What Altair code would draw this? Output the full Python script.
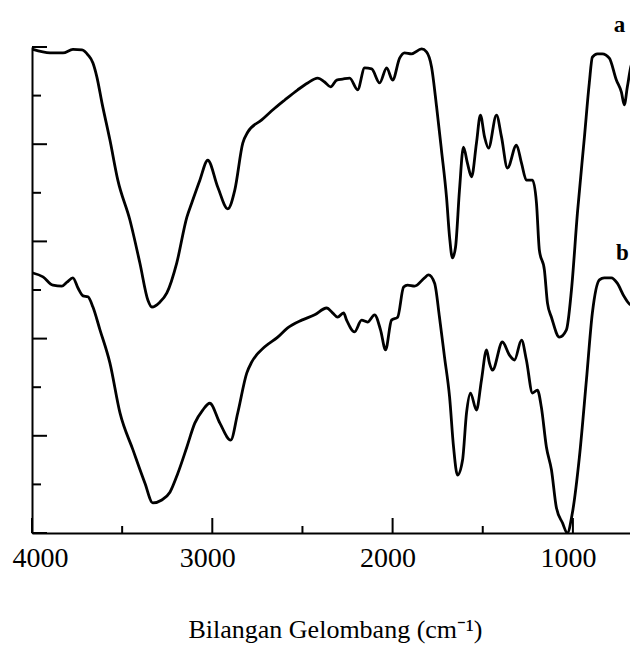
import altair as alt
import pandas as pd

# Curve a (upper spectrum): wavenumber (cm-1) and transmittance (arbitrary %)
wn_a = [3995, 3900, 3828, 3773, 3723, 3690, 3662, 3640, 3612, 3568, 3524, 3457, 3402, 3357,
        3335, 3291, 3252, 3197, 3141, 3114, 3069, 3025, 2970, 2914, 2875, 2831, 2803, 2726,
        2654, 2598, 2526, 2471, 2416, 2377, 2344, 2310, 2277, 2238, 2194, 2155, 2116, 2072,
        2033, 2000, 1961, 1934, 1895, 1839, 1812, 1784, 1756, 1729, 1701, 1684, 1668, 1651,
        1629, 1607, 1585, 1562, 1535, 1513, 1490, 1468, 1424, 1396, 1363, 1313, 1285, 1258,
        1224, 1202, 1186, 1158, 1141, 1119, 1075, 1036, 1008, 975, 936, 909, 892, 864, 837,
        798, 759, 731, 715, 698, 676, 648]
t_a = [99.5, 98.8, 98.8, 99.5, 99.4, 98.4, 96.7, 93.8, 88.5, 80.9, 72.6, 64.4, 55.6, 47.9,
       46.5, 47.5, 49.4, 55.6, 65.0, 67.9, 72.6, 76.7, 71.2, 66.7, 70.6, 80.2, 82.5, 85.0,
       87.4, 89.1, 91.2, 92.6, 93.6, 92.8, 91.8, 93.2, 93.4, 93.6, 91.2, 95.7, 95.5, 92.6,
       95.7, 93.2, 97.7, 98.8, 98.6, 99.6, 99.0, 95.9, 87.7, 78.8, 69.1, 60.9, 56.6, 58.8,
       70.6, 79.4, 76.1, 73.3, 80.2, 86.0, 81.5, 79.2, 86.0, 81.5, 75.1, 79.8, 76.1, 72.6,
       72.6, 67.9, 58.2, 54.1, 47.3, 44.4, 40.3, 41.8, 50.0, 65.8, 81.5, 92.6, 97.9, 98.6, 98.6,
       97.7, 93.2, 90.7, 88.1, 91.8, 96.3, 97.9]

# Curve b (lower spectrum)
wn_b = [3995, 3939, 3884, 3834, 3806, 3773, 3745, 3717, 3690, 3662, 3623, 3568, 3512, 3440,
        3374, 3330, 3280, 3235, 3191, 3141, 3097, 3053, 3014, 2958, 2898, 2859, 2809, 2781,
        2709, 2637, 2582, 2504, 2432, 2366, 2333, 2305, 2272, 2255, 2211, 2172, 2139, 2100,
        2067, 2039, 2006, 1972, 1939, 1917, 1878, 1823, 1801, 1767, 1740, 1712, 1684, 1662,
        1640, 1612, 1590, 1568, 1535, 1507, 1479, 1463, 1446, 1391, 1352, 1324, 1285, 1258,
        1224, 1197, 1175, 1147, 1119, 1092, 1058, 1031, 1003, 964, 925, 892, 853, 826, 787,
        754, 715, 676, 648]
t_b = [53.5, 52.7, 51.0, 50.8, 51.6, 52.5, 50.4, 48.8, 48.6, 46.5, 41.8, 35.0, 24.7, 17.1,
       10.3, 6.2, 6.8, 8.4, 12.3, 17.7, 22.6, 25.3, 26.7, 22.6, 19.1, 24.7, 32.9, 35.2,
       38.3, 40.3, 42.2, 43.8, 44.9, 46.3, 45.3, 44.4, 45.3, 43.8, 41.4, 43.8, 43.4, 44.9,
       41.8, 37.7, 43.8, 44.4, 50.6, 51.0, 50.8, 52.5, 53.1, 51.4, 44.4, 36.2, 28.0, 17.7,
       11.9, 15.0, 24.7, 28.8, 25.3, 31.5, 37.7, 35.0, 33.5, 39.3, 36.6, 35.6, 39.7, 35.6,
       28.8, 29.4, 25.9, 17.7, 13.0, 5.3, 2.1, 0.0, 4.1, 15.6, 31.5, 45.3, 52.1, 52.5, 52.5,
       51.4, 48.6, 46.9, 50.0]

x_major = [4000, 3000, 2000, 1000]
x_minor = [3500, 2500, 1500]
y_major = [0, 20, 40, 60, 80, 100]
y_minor = [10, 30, 50, 70, 90]

label_text = ["a", "b"]
label_wn = [742, 725]
label_t = [103.1, 56.2]

W, H = 598, 486
SERIF = "Liberation Serif"

df = pd.DataFrame({
    "wn": wn_a + wn_b,
    "T": t_a + t_b,
    "s": ["a"] * len(wn_a) + ["b"] * len(wn_b),
})

xs = alt.Scale(domain=[4000, 4000 - W / 0.1803], nice=False, zero=False)
ys = alt.Scale(domain=[0, 100], nice=False, zero=False)

xaxis = alt.Axis(
    values=x_major, ticks=False, grid=False, domain=True,
    domainColor="black", domainWidth=2,
    labelFont=SERIF, labelFontSize=28, labelColor="black", labelPadding=11,
    labelFlush=False, labelOverlap=False,
    labelOffset=alt.condition("datum.value == 4000", alt.value(8), alt.value(-5)),
    format="d",
    title="Bilangan Gelombang (cm⁻¹)", titleFont=SERIF, titleFontSize=26,
    titleFontWeight="normal", titleColor="black", titleBaseline="alphabetic",
    titleY=104, titleX=303, titleAlign="center",
)
yaxis = alt.Axis(labels=False, ticks=False, grid=False, domain=True,
                 domainColor="black", domainWidth=2, title=None)

X = alt.X("wn:Q", scale=xs, axis=xaxis)
Y = alt.Y("T:Q", scale=ys, axis=yaxis)

lines = alt.Chart(df).mark_line(
    color="black", strokeWidth=2.8, interpolate="monotone", clip=True,
    strokeJoin="round", strokeCap="round",
).encode(x=X, y=Y, detail="s:N")

xmaj = alt.Chart(pd.DataFrame({"wn": x_major})).mark_rule(color="black", strokeWidth=2).encode(
    x=X, y=alt.value(H), y2=alt.value(H - 15))
xmin = alt.Chart(pd.DataFrame({"wn": x_minor})).mark_rule(color="black", strokeWidth=2).encode(
    x=X, y=alt.value(H), y2=alt.value(H - 7))
ymaj = alt.Chart(pd.DataFrame({"T": y_major})).mark_rule(color="black", strokeWidth=2).encode(
    y=Y, x=alt.value(0), x2=alt.value(15))
ymin = alt.Chart(pd.DataFrame({"T": y_minor})).mark_rule(color="black", strokeWidth=2).encode(
    y=Y, x=alt.value(0), x2=alt.value(9))

labels = alt.Chart(pd.DataFrame({"wn": label_wn, "T": label_t, "lab": label_text})).mark_text(
    font=SERIF, fontSize=23, fontWeight="bold", color="black", align="center",
    baseline="alphabetic",
).encode(x=X, y=Y, text="lab:N")

chart = alt.layer(lines, xmaj, xmin, ymaj, ymin, labels).properties(
    width=W, height=H,
    padding={"left": 24, "top": 39, "right": 0, "bottom": 115},
    autosize=alt.AutoSizeParams(type="none"),
).configure_view(stroke=None)

chart.save("out.html", embed_options={"renderer": "svg", "actions": False})
